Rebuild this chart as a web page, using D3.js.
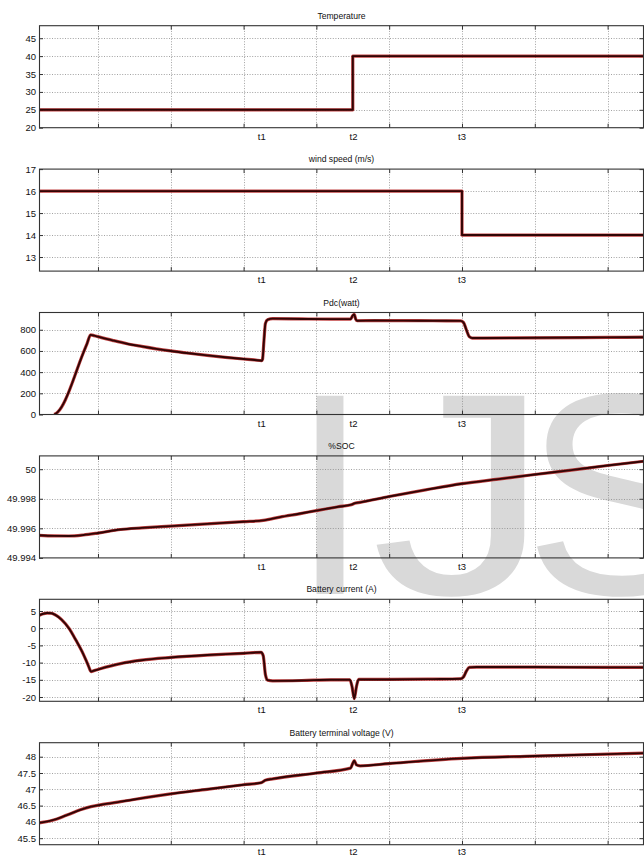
<!DOCTYPE html>
<html>
<head>
<meta charset="utf-8">
<script src="https://cdn.jsdelivr.net/npm/d3@7/dist/d3.min.js"></script>
<style>
  html, body { margin: 0; padding: 0; background: #fff; }
  svg { display: block; }
  text { font-family: "Liberation Sans", Arial, sans-serif; fill: #111; }
</style>
</head>
<body>
<svg id="chart" width="644" height="857"></svg>
<script>
// ---------------- DATA ----------------
const panelTitles = ["Temperature", "wind speed (m/s)", "Pdc(watt)", "%SOC", "Battery current (A)", "Battery terminal voltage (V)"];
const eventLabels = ["t1", "t2", "t3"];
const eventTimes = [3.25, 4.51, 6.0];
const gridTimes = [1, 2, 3, 4, 5, 6, 7, 8];
const timeRange = [0.19, 8.5];

const tempTicks = [20, 25, 30, 35, 40, 45];
const windTicks = [13, 14, 15, 16, 17];
const pdcTicks = [0, 200, 400, 600, 800];
const socTicks = [49.994, 49.996, 49.998, 50];
const currentTicks = [-20, -15, -10, -5, 0, 5];
const voltageTicks = [45.5, 46, 46.5, 47, 47.5, 48];

const tempDomain = [20, 48.5];
const windDomain = [12.36, 17];
const pdcDomain = [0, 963];
const socDomain = [49.994, 50.0009];
const currentDomain = [-21.25, 8.4];
const voltageDomain = [45.3, 48.43];

const temperature = [[0.19, 25], [4.5, 25], [4.5, 40], [8.5, 40]];
const windSpeed = [[0.19, 16], [6.0, 16], [6.0, 14], [8.5, 14]];
const pdc = [[0.40, 0], [0.45, 25], [0.50, 70], [0.55, 135], [0.60, 215], [0.65, 305], [0.70, 400], [0.75, 495],
  [0.80, 585], [0.85, 670], [0.90, 752], [0.95, 744], [1.0, 735], [1.2, 700], [1.4, 668], [1.6, 643], [1.8, 620],
  [2.0, 600], [2.25, 578], [2.5, 558], [2.75, 540], [3.0, 524], [3.15, 515], [3.25, 508], [3.26, 520], [3.28, 700],
  [3.30, 860], [3.33, 895], [3.4, 905], [3.8, 902], [4.2, 900], [4.47, 900], [4.50, 935], [4.52, 945], [4.54, 900],
  [4.56, 885], [4.8, 887], [5.2, 886], [5.6, 885], [5.98, 884], [6.02, 870], [6.06, 800], [6.10, 735], [6.14, 722],
  [6.3, 722], [7.0, 724], [8.0, 728], [8.5, 730]];
const soc = [[0.19, 49.99553], [0.4, 49.99549], [0.6, 49.99548], [0.8, 49.99555], [1.0, 49.99568], [1.31, 49.99592],
  [1.6, 49.99603], [2.0, 49.99615], [2.5, 49.9963], [3.0, 49.99645], [3.27, 49.99654], [3.5, 49.99676], [3.78, 49.997],
  [4.0, 49.9972], [4.3, 49.99746], [4.48, 49.9976], [4.53, 49.9977], [4.6, 49.99776], [5.0, 49.99815], [5.5, 49.9986],
  [6.0, 49.99902], [6.5, 49.99933], [7.0, 49.99964], [7.5, 49.99994], [8.0, 50.00025], [8.5, 50.00054]];
const batteryCurrent = [[0.19, 3.7], [0.25, 4.2], [0.30, 4.4], [0.36, 4.35], [0.42, 3.8], [0.50, 2.5], [0.60, 0],
  [0.70, -3.6], [0.80, -7.6], [0.87, -11.0], [0.905, -12.6], [0.95, -12.3], [1.03, -11.8], [1.31, -10.3], [1.6, -9.3],
  [2.0, -8.5], [2.5, -7.8], [3.0, -7.3], [3.24, -7.0], [3.27, -8], [3.30, -13.5], [3.33, -15.1], [3.40, -15.3],
  [3.8, -15.2], [4.2, -15.0], [4.46, -15.0], [4.49, -17], [4.52, -20.5], [4.55, -17], [4.58, -14.9], [5.0, -14.9],
  [5.6, -14.8], [5.98, -14.7], [6.02, -14.2], [6.06, -12.5], [6.10, -11.4], [6.2, -11.3], [7.0, -11.3], [8.0, -11.4],
  [8.5, -11.4]];
const batteryVoltage = [[0.19, 45.97], [0.39, 46.06], [0.574, 46.21], [0.757, 46.37], [0.904, 46.47], [1.03, 46.52],
  [1.31, 46.62], [2.0, 46.86], [2.5, 47.0], [3.0, 47.14], [3.24, 47.2], [3.30, 47.28], [3.40, 47.32], [4.0, 47.5],
  [4.47, 47.65], [4.50, 47.8], [4.52, 47.88], [4.55, 47.75], [4.60, 47.72], [5.0, 47.79], [6.0, 47.95], [7.0, 48.02],
  [8.0, 48.08], [8.5, 48.11]];
const watermarkLetters = ["I", "J", "S"];

// ---------------- LAYOUT ----------------
const svg = d3.select("#chart");
const plotLeft = 39, plotRight = 644;
const firstTop = 25.7, panelStep = 143.4, panelHeight = 102;

const panels = [
  { title: panelTitles[0], data: temperature, domain: tempDomain, ticks: tempTicks, smooth: false },
  { title: panelTitles[1], data: windSpeed, domain: windDomain, ticks: windTicks, smooth: false },
  { title: panelTitles[2], data: pdc, domain: pdcDomain, ticks: pdcTicks, smooth: true },
  { title: panelTitles[3], data: soc, domain: socDomain, ticks: socTicks, smooth: true },
  { title: panelTitles[4], data: batteryCurrent, domain: currentDomain, ticks: currentTicks, smooth: true },
  { title: panelTitles[5], data: batteryVoltage, domain: voltageDomain, ticks: voltageTicks, smooth: true }
];

const x = d3.scaleLinear().domain(timeRange).range([plotLeft, plotRight]);
const fmt = d => String(+d.toFixed(3));

// watermark (drawn first, behind the plot marks)
const wm = svg.append("g").style("font-family", "'Liberation Sans', Arial, sans-serif").style("font-size", "288px");
const wmX = [290, 371, 524];
const wmScale = [1, 1.25, 1];
wm.selectAll("text").data(watermarkLetters).join("text")
  .attr("transform", (d, k) => `translate(${wmX[k]},594) scale(${wmScale[k]},1)`)
  .style("fill", "#d9d9d9").text(d => d);

panels.forEach((p, i) => {
  const top = firstTop + i * panelStep;
  const bottom = top + panelHeight;
  const y = d3.scaleLinear().domain(p.domain).range([bottom, top]);
  const g = svg.append("g");

  // title
  g.append("text").attr("x", (plotLeft + plotRight) / 2).attr("y", top - 7)
    .attr("text-anchor", "middle").style("font-size", "8.6px").text(p.title);

  // grid
  const grid = g.append("g").attr("stroke", "#8a8a8a").attr("stroke-width", 0.8).attr("stroke-dasharray", "1,1.6");
  grid.selectAll("line.v").data(gridTimes).join("line").attr("class", "v")
    .attr("x1", d => Math.round(x(d)) + 0.5).attr("x2", d => Math.round(x(d)) + 0.5)
    .attr("y1", top).attr("y2", bottom);
  grid.selectAll("line.h").data(p.ticks.filter(t => y(t) > top + 1 && y(t) < bottom - 1)).join("line").attr("class", "h")
    .attr("x1", plotLeft).attr("x2", plotRight)
    .attr("y1", d => Math.round(y(d)) + 0.5).attr("y2", d => Math.round(y(d)) + 0.5);

  // axes (ticks inward)
  const yl = g.append("g").attr("transform", `translate(${plotLeft},0)`)
    .call(d3.axisLeft(y).tickValues(p.ticks).tickFormat(fmt).tickSizeInner(-4).tickSizeOuter(0).tickPadding(3));
  yl.select(".domain").remove();
  yl.selectAll("text").style("font-size", "9.5px").attr("fill", "#111");
  yl.selectAll("line").attr("stroke", "#333");

  const yr = g.append("g").attr("transform", `translate(${plotRight - 0.5},0)`)
    .call(d3.axisRight(y).tickValues(p.ticks).tickFormat("").tickSizeInner(-4).tickSizeOuter(0));
  yr.select(".domain").remove();
  yr.selectAll("line").attr("stroke", "#333");

  const xt = g.append("g").attr("transform", `translate(0,${top})`)
    .call(d3.axisTop(x).tickValues(gridTimes).tickFormat("").tickSizeInner(-4).tickSizeOuter(0));
  xt.select(".domain").remove();
  xt.selectAll("line").attr("stroke", "#333");
  const xb = g.append("g").attr("transform", `translate(0,${bottom})`)
    .call(d3.axisBottom(x).tickValues(gridTimes).tickFormat("").tickSizeInner(-4).tickSizeOuter(0));
  xb.select(".domain").remove();
  xb.selectAll("line").attr("stroke", "#333");

  // clip
  const clipId = "clip" + i;
  svg.append("clipPath").attr("id", clipId).append("rect")
    .attr("x", plotLeft).attr("y", top).attr("width", plotRight - plotLeft).attr("height", panelHeight);

  const line = d3.line().x(d => x(d[0])).y(d => y(d[1]))
    .curve(p.smooth ? d3.curveMonotoneX : d3.curveLinear);
  const lg = g.append("g").attr("clip-path", `url(#${clipId})`);
  lg.append("path").datum(p.data).attr("d", line).attr("fill", "none")
    .attr("stroke", "#b52020").attr("stroke-width", 3.2).attr("stroke-linejoin", "round").attr("opacity", 0.85);
  lg.append("path").datum(p.data).attr("d", line).attr("fill", "none")
    .attr("stroke", "#300505").attr("stroke-width", 1.9).attr("stroke-linejoin", "round");

  // box
  g.append("rect").attr("x", plotLeft + 0.5).attr("y", top).attr("width", plotRight - plotLeft - 1).attr("height", panelHeight)
    .attr("fill", "none").attr("stroke", "#333").attr("stroke-width", 1.1);

  // event labels
  const labelOffset = i === panels.length - 1 ? 10 : 12;
  g.selectAll("text.ev").data(eventTimes).join("text").attr("class", "ev")
    .attr("x", d => x(d)).attr("y", bottom + labelOffset).attr("text-anchor", "middle")
    .style("font-size", "9.5px").text((d, k) => eventLabels[k]);
});
</script>
</body>
</html>
